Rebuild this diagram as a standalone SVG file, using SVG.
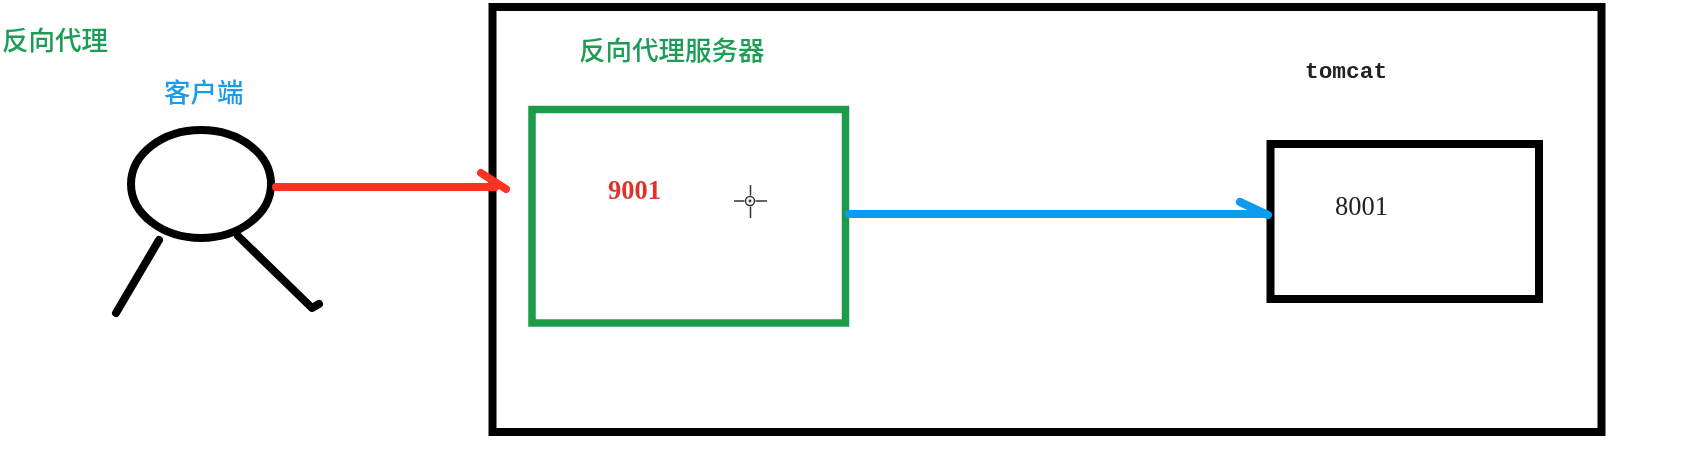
<svg xmlns="http://www.w3.org/2000/svg" width="1681" height="453" viewBox="0 0 1681 453">
<defs><filter id="soft" x="-5%" y="-5%" width="110%" height="110%"><feGaussianBlur stdDeviation="0.6"/></filter></defs>
<style>
.box{fill:none;stroke-linejoin:miter}
.blk{stroke:#000}
.cjk{font-family:"Noto Sans CJK SC","Liberation Sans",sans-serif;font-size:26.5px;font-weight:500}
.num{font-family:"Liberation Serif",serif;font-size:26.5px}
.line{fill:none;stroke-linecap:round;stroke-linejoin:round}
</style>
<rect width="1681" height="453" fill="#fff"/>
<g filter="url(#soft)">
<text id="title" class="cjk" x="2" y="50" fill="#1f9d55">反向代理</text>
<g id="client">
<text class="cjk" x="164" y="102" fill="#1a9be6">客户端</text>
<ellipse class="box blk" cx="201" cy="184" rx="70" ry="54" stroke-width="8"/>
<path class="line blk" d="M159 240L116 313" stroke-width="8"/>
<path class="line blk" d="M238 236L312 308L319 304" stroke-width="8"/>
</g>
<g id="proxy-outer">
<rect class="box blk" x="492.500" y="7" width="1109" height="425" stroke-width="8"/>
<text class="cjk" x="579" y="60" fill="#1f9d55">反向代理服务器</text>
</g>
<g id="proxy">
<rect class="box" x="532" y="109.500" width="313.500" height="213.500" stroke="#1a9c4b" stroke-width="7.500"/>
<text class="num" x="608" y="199" fill="#e0322a" font-weight="bold" stroke="none">9001</text>
</g>
<g id="tomcat">
<text x="1305" y="78" font-family="Liberation Mono,monospace" font-size="22.800" font-weight="bold" fill="#222">tomcat</text>
<rect class="box blk" x="1270.500" y="144" width="268.500" height="155" stroke-width="8"/>
<text class="num" x="1335" y="215" fill="#222">8001</text>
</g>
<g id="connectors">
<path class="line" d="M276 187H495M481 173L506 189" stroke="#ff3020" stroke-width="8"/>
<path class="line" d="M849 214H1266M1240 202L1268 215" stroke="#0f9bf0" stroke-width="8"/>
</g>
<g id="cursor" fill="none" stroke="#333" stroke-width="1.500">
<path d="M734 201H744.500M755.500 201H767M750.500 185V195.500M750.500 206.500V218"/>
<circle cx="750" cy="201" r="4.500"/>
<circle cx="750" cy="201" r="0.700" fill="#333"/>
</g>
</g>
</svg>
